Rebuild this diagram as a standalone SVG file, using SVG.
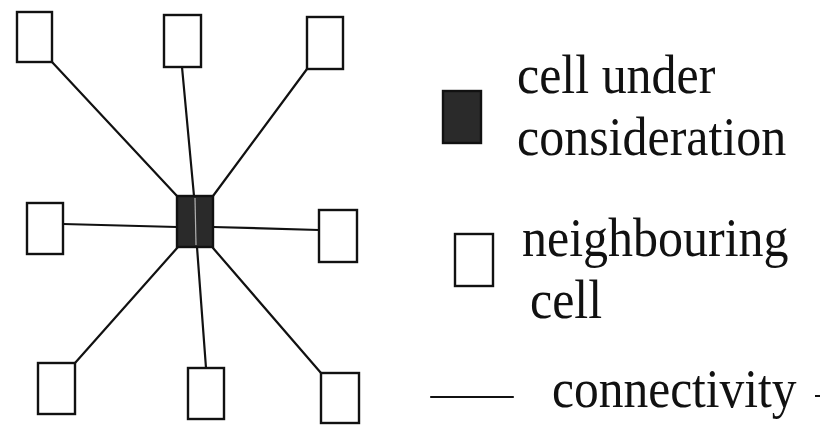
<svg xmlns="http://www.w3.org/2000/svg" width="820" height="426" viewBox="0 0 820 426">
  <style>
    .cell { fill: #ffffff; stroke: #111111; stroke-width: 2.4; }
    .focus { fill: #2a2a2a; stroke: #111111; stroke-width: 2.4; }
    .link { stroke: #111111; stroke-width: 2.2; fill: none; stroke-linecap: round; }
    .label { font-family: "Liberation Serif", "Times New Roman", serif; font-size: 50px; fill: #111111; }
  </style>
  <rect width="820" height="426" fill="#ffffff"/>

  <!-- connectivity links from the centre cell to its eight neighbours -->
  <g id="connectors">
    <line class="link" x1="52" y1="62" x2="177" y2="196"/>
    <line class="link" x1="182" y1="67" x2="194" y2="196"/>
    <line class="link" x1="307" y1="69" x2="213" y2="196"/>
    <line class="link" x1="63" y1="224" x2="177" y2="227"/>
    <line class="link" x1="213" y1="227" x2="319" y2="230"/>
    <line class="link" x1="178" y1="247" x2="75" y2="363"/>
    <line class="link" x1="197" y1="247" x2="206" y2="368"/>
    <line class="link" x1="213" y1="248" x2="321" y2="373"/>
  </g>

  <!-- neighbouring cells -->
  <g id="n-top-left"><rect class="cell" x="17" y="12" width="35" height="50"/></g>
  <g id="n-top"><rect class="cell" x="164" y="15" width="37" height="52"/></g>
  <g id="n-top-right"><rect class="cell" x="307" y="17" width="36" height="52"/></g>
  <g id="n-left"><rect class="cell" x="27" y="203" width="36" height="51"/></g>
  <g id="n-right"><rect class="cell" x="319" y="210" width="38" height="52"/></g>
  <g id="n-bottom-left"><rect class="cell" x="38" y="363" width="37" height="51"/></g>
  <g id="n-bottom"><rect class="cell" x="188" y="368" width="36" height="51"/></g>
  <g id="n-bottom-right"><rect class="cell" x="321" y="373" width="38" height="50"/></g>

  <!-- cell under consideration -->
  <g id="centre">
    <rect class="focus" x="177" y="196" width="36" height="51"/>
    <line x1="195" y1="198" x2="196" y2="245" stroke="#b0b0b0" stroke-width="1.2"/>
  </g>

  <!-- legend (text slightly stretched vertically) -->
  <g id="legend-centre">
    <rect class="focus" x="443" y="91" width="38" height="52"/>
    <text class="label" transform="translate(517,93) scale(1,1.08)">cell under</text>
    <text class="label" transform="translate(517,155) scale(1,1.08)">consideration</text>
  </g>
  <g id="legend-neighbour">
    <rect class="cell" x="455" y="234" width="38" height="52"/>
    <text class="label" transform="translate(522,256) scale(1,1.08)">neighbouring</text>
    <text class="label" transform="translate(530,318) scale(1,1.08)">cell</text>
  </g>
  <g id="legend-link">
    <line class="link" x1="431" y1="397" x2="513" y2="397"/>
    <text class="label" transform="translate(552,407) scale(0.99,1.08)">connectivity</text>
    <line x1="815" y1="396" x2="820" y2="396" stroke="#111111" stroke-width="2"/>
  </g>
</svg>
